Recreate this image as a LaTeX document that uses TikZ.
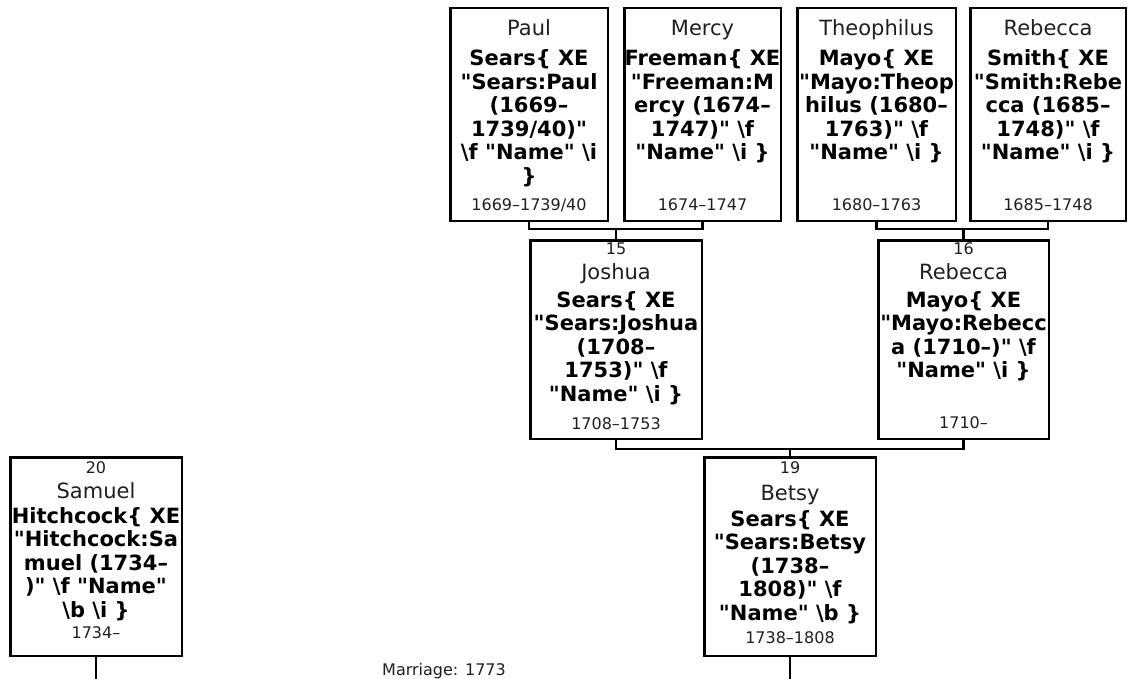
\documentclass[tikz,border=0pt]{standalone}
\usepackage{fontspec}
\setmainfont{DejaVu Sans}
\newfontfamily\vf{DejaVu Sans}
\begin{document}
\begin{tikzpicture}[x=1pt,y=-1pt,
  box/.style={draw=black, line width=2.5pt, rectangle, inner sep=0pt},
  conn/.style={draw=black, line width=2.5pt},
  nm/.style={anchor=base, inner sep=0pt, text=black!88, font=\vf\fontsize{21}{24}\selectfont},
  bd/.style={anchor=base, inner sep=0pt, font=\vf\fontsize{21}{24}\selectfont\bfseries},
  sm/.style={anchor=base, inner sep=0pt, text=black!88, font=\vf\fontsize{16}{19}\selectfont}]
\useasboundingbox (0,0) rectangle (1129,679);
% boxes
\node[box, minimum width=157.5pt, minimum height=212.5pt] (paul) at (529,114.5) {};
\node[box, minimum width=156.5pt, minimum height=212.5pt] (mercy) at (702.5,114.5) {};
\node[box, minimum width=158.5pt, minimum height=212.5pt] (theo) at (876.5,114.5) {};
\node[box, minimum width=155.5pt, minimum height=212.5pt] (rsmith) at (1048,114.5) {};
\node[box, minimum width=171.5pt, minimum height=198.5pt] (joshua) at (616,339.5) {};
\node[box, minimum width=170.5pt, minimum height=198.5pt] (rmayo) at (963.5,339.5) {};
\node[box, minimum width=171.5pt, minimum height=198.5pt] (samuel) at (96,556.5) {};
\node[box, minimum width=171.5pt, minimum height=198.5pt] (betsy) at (790,556.5) {};
% Paul
\node[nm] (paul-n) at (529,36) {Paul};
\node[bd] (paul-b1) at (529,66) {Sears\{ XE};
\node[bd] (paul-b2) at (529,89.5) {"Sears:Paul};
\node[bd] (paul-b3) at (529,113) {(1669–};
\node[bd] (paul-b4) at (529,136.5) {1739/40)"};
\node[bd] (paul-b5) at (529,160) {\textbackslash f "Name" \textbackslash i};
\node[bd] (paul-b6) at (529,183.5) {\}};
\node[sm] (paul-d) at (529,210.5) {1669–1739/40};
% Mercy
\node[nm] (mercy-n) at (702.5,36) {Mercy};
\node[bd] (mercy-b1) at (702.5,66) {Freeman\{ XE};
\node[bd] (mercy-b2) at (702.5,89.5) {"Freeman:M};
\node[bd] (mercy-b3) at (702.5,113) {ercy (1674–};
\node[bd] (mercy-b4) at (702.5,136.5) {1747)" \textbackslash f};
\node[bd] (mercy-b5) at (702.5,160) {"Name" \textbackslash i \}};
\node[sm] (mercy-d) at (702.5,210.5) {1674–1747};
% Theophilus
\node[nm] (theo-n) at (876.5,36) {Theophilus};
\node[bd] (theo-b1) at (876.5,66) {Mayo\{ XE};
\node[bd] (theo-b2) at (876.5,89.5) {"Mayo:Theop};
\node[bd] (theo-b3) at (876.5,113) {hilus (1680–};
\node[bd] (theo-b4) at (876.5,136.5) {1763)" \textbackslash f};
\node[bd] (theo-b5) at (876.5,160) {"Name" \textbackslash i \}};
\node[sm] (theo-d) at (876.5,210.5) {1680–1763};
% Rebecca Smith
\node[nm] (rsmith-n) at (1048,36) {Rebecca};
\node[bd] (rsmith-b1) at (1048,66) {Smith\{ XE};
\node[bd] (rsmith-b2) at (1048,89.5) {"Smith:Rebe};
\node[bd] (rsmith-b3) at (1048,113) {cca (1685–};
\node[bd] (rsmith-b4) at (1048,136.5) {1748)" \textbackslash f};
\node[bd] (rsmith-b5) at (1048,160) {"Name" \textbackslash i \}};
\node[sm] (rsmith-d) at (1048,210.5) {1685–1748};
% Joshua
\node[sm] (joshua-k) at (616,254) {15};
\node[nm] (joshua-n) at (616,279) {Joshua};
\node[bd] (joshua-b1) at (616,307) {Sears\{ XE};
\node[bd] (joshua-b2) at (616,330.5) {"Sears:Joshua};
\node[bd] (joshua-b3) at (616,354) {(1708–};
\node[bd] (joshua-b4) at (616,377.5) {1753)" \textbackslash f};
\node[bd] (joshua-b5) at (616,401) {"Name" \textbackslash i \}};
\node[sm] (joshua-d) at (616,429) {1708–1753};
% Rebecca Mayo
\node[sm] (rmayo-k) at (963.5,254) {16};
\node[nm] (rmayo-n) at (963.5,279) {Rebecca};
\node[bd] (rmayo-b1) at (963.5,307) {Mayo\{ XE};
\node[bd] (rmayo-b2) at (963.5,330.5) {"Mayo:Rebecc};
\node[bd] (rmayo-b3) at (963.5,354) {a (1710–)" \textbackslash f};
\node[bd] (rmayo-b4) at (963.5,377.5) {"Name" \textbackslash i \}};
\node[sm] (rmayo-d) at (963.5,428) {1710–};
% Samuel
\node[sm] (samuel-k) at (96,473) {20};
\node[nm] (samuel-n) at (96,498) {Samuel};
\node[bd] (samuel-b1) at (96,523) {Hitchcock\{ XE};
\node[bd] (samuel-b2) at (96,546.5) {"Hitchcock:Sa};
\node[bd] (samuel-b3) at (96,570) {muel (1734–};
\node[bd] (samuel-b4) at (96,593.5) {)" \textbackslash f "Name"};
\node[bd] (samuel-b5) at (96,617) {\textbackslash b \textbackslash i \}};
\node[sm] (samuel-d) at (96,638) {1734–};
% Betsy
\node[sm] (betsy-k) at (790,473) {19};
\node[nm] (betsy-n) at (790,500) {Betsy};
\node[bd] (betsy-b1) at (790,526) {Sears\{ XE};
\node[bd] (betsy-b2) at (790,549.5) {"Sears:Betsy};
\node[bd] (betsy-b3) at (790,573) {(1738–};
\node[bd] (betsy-b4) at (790,596.5) {1808)" \textbackslash f};
\node[bd] (betsy-b5) at (790,620) {"Name" \textbackslash b \}};
\node[sm] (betsy-d) at (790,643) {1738–1808};
% marriage
\node[sm, anchor=base west] (marriage) at (382,675) {Marriage: 1773};
% connectors
\coordinate (pm) at (616,229);
\coordinate (tr) at (963.5,229);
\coordinate (jr) at (790,449);
\coordinate (sbot) at (96,679);
\coordinate (bbot) at (790,679);
\draw[conn] (paul.south) |- (pm) -| (mercy.south);
\draw[conn] (pm) -- (joshua.north);
\draw[conn] (theo.south) |- (tr) -| (rsmith.south);
\draw[conn] (tr) -- (rmayo.north);
\draw[conn] (joshua.south) |- (jr) -| (rmayo.south);
\draw[conn] (jr) -- (betsy.north);
\draw[conn] (betsy.south) -- (bbot);
\draw[conn] (samuel.south) -- (sbot);
\end{tikzpicture}
\end{document}
